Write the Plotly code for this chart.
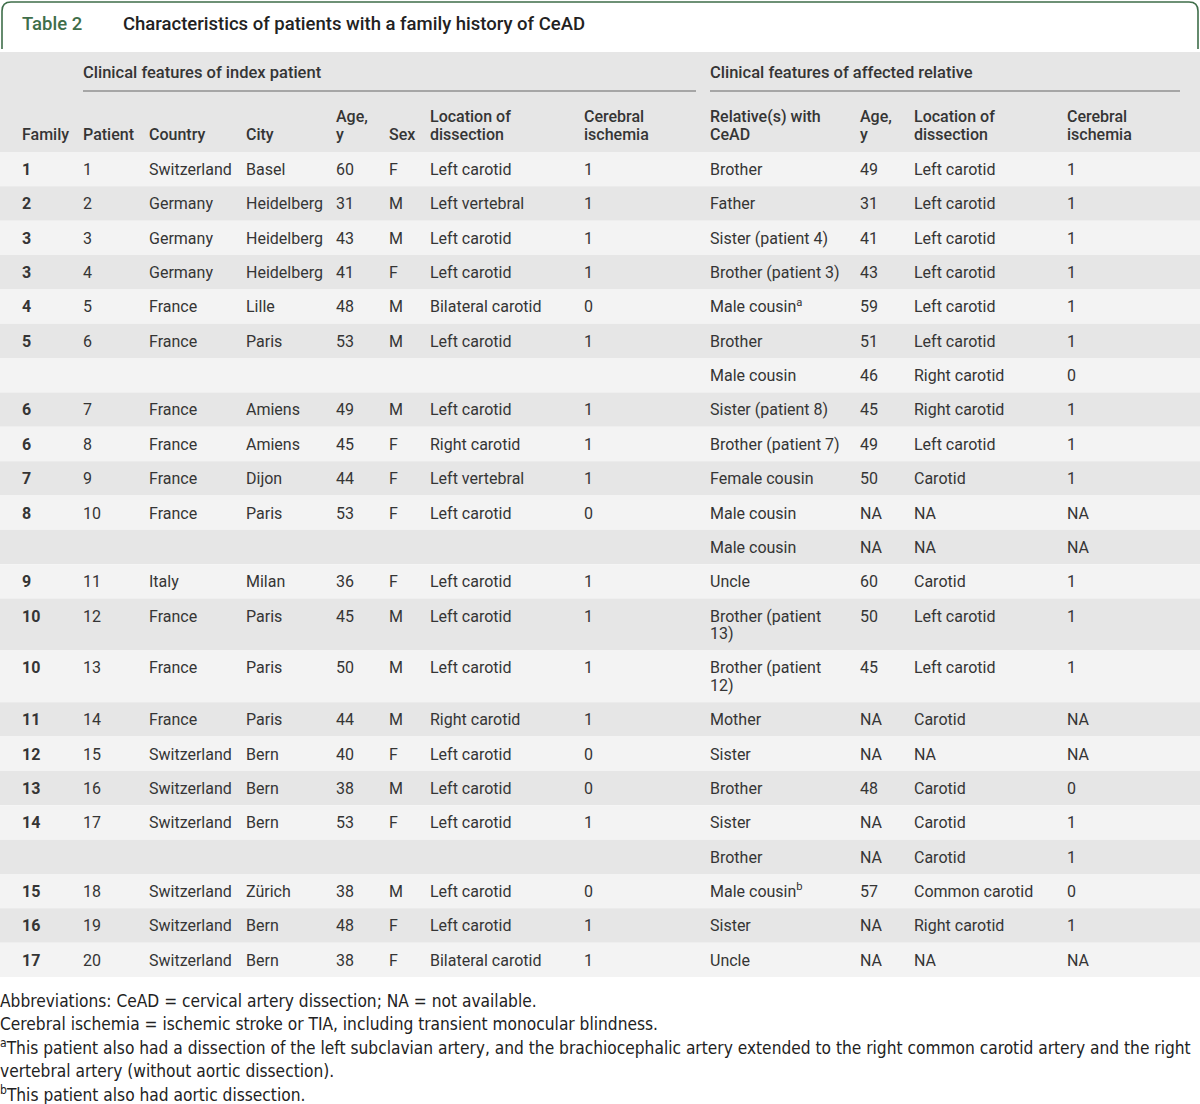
import textwrap
import plotly.graph_objects as go

# ---------------- data ----------------
title_label = "Table 2"
title_text = "Characteristics of patients with a family history of CeAD"
group_labels = ["Clinical features of index patient", "Clinical features of affected relative"]
column_headers = ["Family", "Patient", "Country", "City", "Age,\ny", "Sex",
                  "Location of\ndissection", "Cerebral\nischemia",
                  "Relative(s) with\nCeAD", "Age,\ny", "Location of\ndissection", "Cerebral\nischemia"]

family = ["1", "2", "3", "3", "4", "5", "", "6", "6", "7", "8", "", "9", "10", "10",
          "11", "12", "13", "14", "", "15", "16", "17"]
patient = ["1", "2", "3", "4", "5", "6", "", "7", "8", "9", "10", "", "11", "12", "13",
           "14", "15", "16", "17", "", "18", "19", "20"]
country = ["Switzerland", "Germany", "Germany", "Germany", "France", "France", "", "France",
           "France", "France", "France", "", "Italy", "France", "France", "France",
           "Switzerland", "Switzerland", "Switzerland", "", "Switzerland", "Switzerland", "Switzerland"]
city = ["Basel", "Heidelberg", "Heidelberg", "Heidelberg", "Lille", "Paris", "", "Amiens",
        "Amiens", "Dijon", "Paris", "", "Milan", "Paris", "Paris", "Paris", "Bern", "Bern",
        "Bern", "", "Zürich", "Bern", "Bern"]
age = ["60", "31", "43", "41", "48", "53", "", "49", "45", "44", "53", "", "36", "45", "50",
       "44", "40", "38", "53", "", "38", "48", "38"]
sex = ["F", "M", "M", "F", "M", "M", "", "M", "F", "F", "F", "", "F", "M", "M", "M", "F",
       "M", "F", "", "M", "F", "F"]
location = ["Left carotid", "Left vertebral", "Left carotid", "Left carotid", "Bilateral carotid",
            "Left carotid", "", "Left carotid", "Right carotid", "Left vertebral", "Left carotid",
            "", "Left carotid", "Left carotid", "Left carotid", "Right carotid", "Left carotid",
            "Left carotid", "Left carotid", "", "Left carotid", "Left carotid", "Bilateral carotid"]
ischemia = ["1", "1", "1", "1", "0", "1", "", "1", "1", "1", "0", "", "1", "1", "1", "1", "0",
            "0", "1", "", "0", "1", "1"]
relative = ["Brother", "Father", "Sister (patient 4)", "Brother (patient 3)", "Male cousin",
            "Brother", "Male cousin", "Sister (patient 8)", "Brother (patient 7)", "Female cousin",
            "Male cousin", "Male cousin", "Uncle", "Brother (patient 13)", "Brother (patient 12)",
            "Mother", "Sister", "Brother", "Sister", "Brother", "Male cousin", "Sister", "Uncle"]
relative_note = ["", "", "", "", "a", "", "", "", "", "", "", "", "", "", "", "", "", "", "",
                 "", "b", "", ""]
rel_age = ["49", "31", "41", "43", "59", "51", "46", "45", "49", "50", "NA", "NA", "60", "50",
           "45", "NA", "NA", "48", "NA", "NA", "57", "NA", "NA"]
rel_location = ["Left carotid", "Left carotid", "Left carotid", "Left carotid", "Left carotid",
                "Left carotid", "Right carotid", "Right carotid", "Left carotid", "Carotid", "NA",
                "NA", "Carotid", "Left carotid", "Left carotid", "Carotid", "NA", "Carotid",
                "Carotid", "Carotid", "Common carotid", "Right carotid", "NA"]
rel_ischemia = ["1", "1", "1", "1", "1", "1", "0", "1", "1", "1", "NA", "NA", "1", "1", "1",
                "NA", "NA", "0", "1", "1", "0", "1", "NA"]

footnotes = [
    "Abbreviations: CeAD = cervical artery dissection; NA = not available.",
    "Cerebral ischemia = ischemic stroke or TIA, including transient monocular blindness.",
    "<sup>a</sup>This patient also had a dissection of the left subclavian artery, and the brachiocephalic artery extended to the right common carotid artery and the right",
    "vertebral artery (without aortic dissection).",
    "<sup>b</sup>This patient also had aortic dissection.",
]

# ---------------- layout constants ----------------
W, H = 1200, 1104
GREEN = "#3f6e4a"
TEXT = "#353535"
LIGHT = "#f3f3f3"
DARK = "#e6e6e6"
FONT = "Roboto, 'Noto Sans', sans-serif"
NARROW = "'Liberation Sans Narrow', 'DejaVu Sans Condensed', 'Roboto Condensed', Roboto, sans-serif"
FS = 16
TY = 1.8     # scatter-text vertical compensation

col_x = [22, 83, 149, 246, 336, 389, 430, 584, 710, 860, 914, 1067]
wrap_width = [None] * 8 + [19, None, None, None]
body_top = 152
row_h = 34.35
line_h = 17.5
first_off = 17.2

columns = [family, patient, country, city, age, sex, location, ischemia,
           relative, rel_age, rel_location, rel_ischemia]
n_rows = len(family)


def cell_lines(ci, ri):
    txt = columns[ci][ri]
    lines = textwrap.wrap(txt, wrap_width[ci]) if (wrap_width[ci] and txt) else [txt]
    if ci == 8 and relative_note[ri]:
        lines[-1] = lines[-1] + "<sup>" + relative_note[ri] + "</sup>"
    return lines


# row geometry from line counts
row_tops, row_heights = [], []
y = body_top
for ri in range(n_rows):
    nl = max(len(cell_lines(ci, ri)) for ci in range(len(columns)))
    h = row_h + (nl - 1) * line_h
    row_tops.append(y)
    row_heights.append(h)
    y += h

fig = go.Figure()
shapes = []

# title box
r = 9
shapes.append(dict(type="path", xref="x", yref="y",
                   path=f"M 2,49 L 2,{2 + r} Q 2,2 {2 + r},2 L {W - 2 - r},2 Q {W - 2},2 {W - 2},{2 + r} L {W - 2},49",
                   line=dict(color=GREEN, width=1.6)))
# header background
shapes.append(dict(type="rect", xref="x", yref="y", x0=0, x1=W, y0=52, y1=body_top,
                   fillcolor=DARK, line=dict(width=0), layer="below"))
# row backgrounds
for ri in range(n_rows):
    shapes.append(dict(type="rect", xref="x", yref="y", x0=0, x1=W,
                       y0=row_tops[ri], y1=row_tops[ri] + row_heights[ri],
                       fillcolor=LIGHT if ri % 2 == 0 else DARK, line=dict(width=0), layer="below"))
# group underlines
for x0, x1 in [(83, 696), (710, 1180)]:
    shapes.append(dict(type="line", xref="x", yref="y", x0=x0, x1=x1, y0=91, y1=91,
                       line=dict(color="#666666", width=1)))

# body cells as text traces
for ci in range(len(columns)):
    xs, ys, ts = [], [], []
    for ri in range(n_rows):
        for li, ln in enumerate(cell_lines(ci, ri)):
            if not ln:
                continue
            xs.append(col_x[ci])
            ys.append(row_tops[ri] + first_off + li * line_h + TY)
            ts.append(ln)
    fig.add_trace(go.Scatter(
        x=xs, y=ys, text=ts, mode="text", textposition="middle right",
        textfont=dict(family=FONT, size=FS, color=TEXT, weight=700 if ci == 0 else 400),
        hoverinfo="skip", showlegend=False))

# column headers
hx, hy, ht = [], [], []
for ci, hdr in enumerate(column_headers):
    lines = hdr.split("\n")
    for li, ln in enumerate(lines):
        hx.append(col_x[ci])
        hy.append(134 - (len(lines) - 1 - li) * line_h + TY)
        ht.append(ln)
fig.add_trace(go.Scatter(x=hx, y=hy, text=ht, mode="text", textposition="middle right",
                         textfont=dict(family=FONT, size=FS, color=TEXT, weight=500),
                         hoverinfo="skip", showlegend=False))

annotations = []
# group labels
for gx, g in zip([83, 710], group_labels):
    annotations.append(dict(x=gx, y=72, xref="x", yref="y", text=g, showarrow=False,
                            xanchor="left", yanchor="middle", xshift=-2,
                            font=dict(family=FONT, size=16.5, color=TEXT, weight=500)))
# title
annotations.append(dict(x=20, y=24, xref="x", yref="y", text=title_label, showarrow=False,
                        xanchor="left", yanchor="middle",
                        font=dict(family=FONT, size=18.5, color=GREEN, weight=500)))
annotations.append(dict(x=121, y=24, xref="x", yref="y", text=title_text, showarrow=False,
                        xanchor="left", yanchor="middle",
                        font=dict(family=FONT, size=18.5, color="#222222", weight=500)))
# footnotes
for i, fn in enumerate(footnotes):
    annotations.append(dict(x=0, y=1001 + i * 23.2, xref="x", yref="y", text=fn, showarrow=False,
                            xanchor="left", yanchor="middle", xshift=-2,
                            font=dict(family=NARROW, size=17.2, color="#222222")))

fig.update_layout(
    width=W, height=H, margin=dict(l=0, r=0, t=0, b=0),
    paper_bgcolor="white", plot_bgcolor="white",
    xaxis=dict(range=[0, W], visible=False, fixedrange=True),
    yaxis=dict(range=[H, 0], visible=False, fixedrange=True),
    shapes=shapes, annotations=annotations,
)

fig.write_html("out.html", config={"displayModeBar": False},
               post_script="document.body.style.margin='0';document.body.style.overflow='hidden';")
